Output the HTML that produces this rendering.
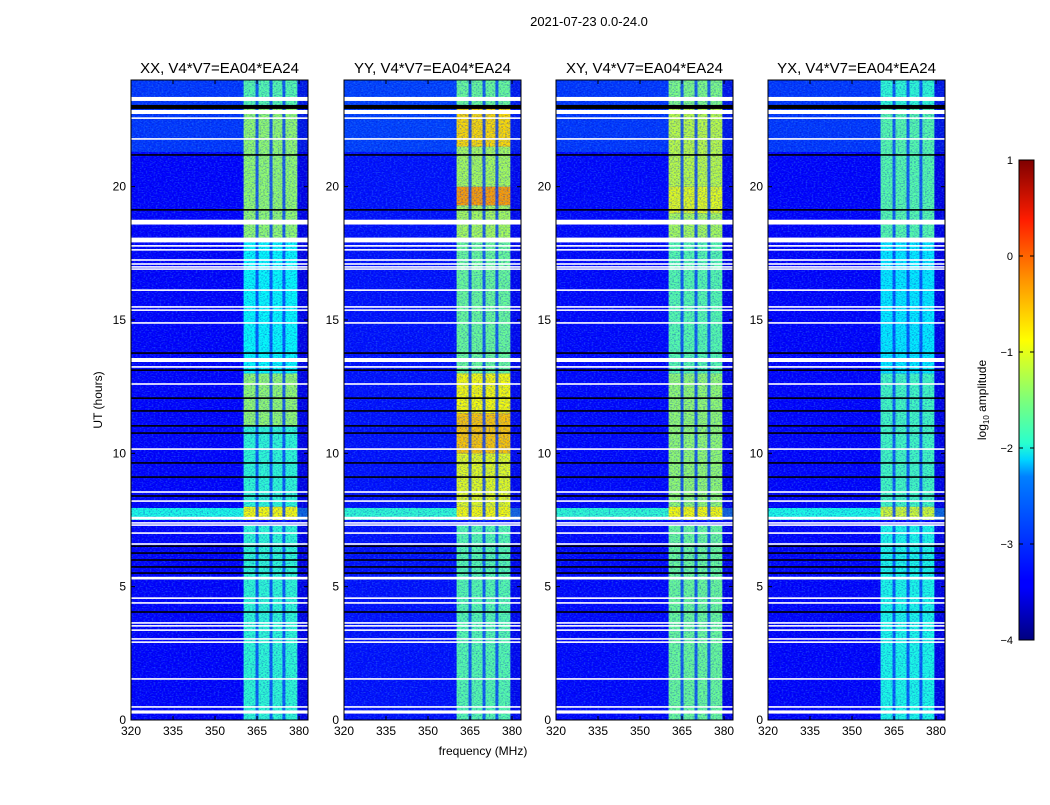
<!DOCTYPE html>
<html><head><meta charset="utf-8">
<style>
body{margin:0;background:#fff;width:1050px;height:800px;overflow:hidden;font-family:"Liberation Sans","DejaVu Sans",sans-serif;}
svg text{font-family:"Liberation Sans","DejaVu Sans",sans-serif;}
</style></head>
<body>
<svg id="chart" width="1050" height="800" xmlns="http://www.w3.org/2000/svg">
<defs>
<linearGradient id="jet" x1="0" y1="1" x2="0" y2="0">
<stop offset="0" stop-color="#00007f"/><stop offset="0.11" stop-color="#0000ff"/>
<stop offset="0.125" stop-color="#0000ff"/><stop offset="0.34" stop-color="#0080ff"/>
<stop offset="0.375" stop-color="#00d4ff"/><stop offset="0.41" stop-color="#29ffce"/>
<stop offset="0.5" stop-color="#7dff7a"/><stop offset="0.625" stop-color="#ffff00"/>
<stop offset="0.75" stop-color="#ff9400"/><stop offset="0.875" stop-color="#ff1d00"/>
<stop offset="1" stop-color="#7f0000"/>
</linearGradient>
<filter id="noise" x="0" y="0" width="100%" height="100%">
<feTurbulence type="fractalNoise" baseFrequency="0.5 0.8" numOctaves="1" seed="3"/>
<feColorMatrix type="matrix" values="0 0 0 0 0.05  0 0 0 0 0.35  0 0 0 0 0.9  2.2 0 0 0 -1.0"/>
</filter>
<filter id="noiseDark" x="0" y="0" width="100%" height="100%">
<feTurbulence type="fractalNoise" baseFrequency="0.55 0.9" numOctaves="1" seed="9"/>
<feColorMatrix type="matrix" values="0 0 0 0 0  0 0 0 0 0  0 0 0 0 0.45  2.0 0 0 0 -0.9"/>
</filter>
</defs>
<text x="589" y="26" font-size="13" text-anchor="middle">2021-07-23 0.0-24.0</text>
<g id="panels"></g>
<text x="483" y="755" font-size="12" text-anchor="middle">frequency (MHz)</text>
<text transform="translate(102,400) rotate(-90)" font-size="12" text-anchor="middle">UT (hours)</text>
<g id="colorbar"></g>
</svg>
<script>
const panelTitles = ["XX, V4*V7=EA04*EA24","YY, V4*V7=EA04*EA24","XY, V4*V7=EA04*EA24","YX, V4*V7=EA04*EA24"];
const xTicks = [320,335,350,365,380];
const yTicks = [0,5,10,15,20];
const cbTicks = [1,0,-1,-2,-3,-4];
const bgLevel = [-3.38,-3.3,-3.35,-3.38];
const topLevel = [-3.1,-3.05,-3.1,-3.1];
const brightRowLevel = [-2.0,-1.9,-1.9,-2.0];
const bandEdges = [360.2,379.4];
const stripes = [365,370,374.6];
const bandXX = [[0,7.3,-1.9],[7.5,8.0,-0.9],[8,11,-1.9],[11,13,-1.4],[13,18,-2.1],[18,23,-1.4],[23,24,-1.7]];
const bandYY = [[0,7.3,-1.7],[7.5,8,-0.9],[8,10,-1.0],[10,11.5,-0.6],[11.5,13,-0.9],[13,18,-1.6],[18,19.3,-1.3],[19.3,20,-0.4],[20,21.5,-1.3],[21.5,23,-0.7],[23,24,-1.6]];
const bandXY = [[0,7.3,-1.6],[7.5,8,-0.9],[8,13,-1.4],[13,18,-1.7],[18,19,-1.3],[19,20,-1.0],[20,23,-1.2],[23,24,-1.5]];
const bandYX = [[0,7.3,-2.0],[7.5,8,-1.1],[8,13,-1.8],[13,18,-2.2],[18,23,-1.7],[23,24,-1.9]];
const whiteGaps = [[23.29,0.15],[22.8,0.15],[22.57,0.06],[21.79,0.06],[18.67,0.18],[18.0,0.18],[17.78,0.06],[17.63,0.06],[17.25,0.06],[17.1,0.06],[16.99,0.06],[16.91,0.06],[16.12,0.06],[15.49,0.06],[15.37,0.06],[14.89,0.06],[13.5,0.15],[13.24,0.06],[12.6,0.06],[10.16,0.06],[8.55,0.06],[8.21,0.06],[7.57,0.1],[7.39,0.06],[7.31,0.06],[7.01,0.06],[6.6,0.06],[5.32,0.1],[4.57,0.06],[4.39,0.06],[3.64,0.06],[3.53,0.06],[3.37,0.06],[3.04,0.06],[2.92,0.06],[1.54,0.06],[0.49,0.06],[0.3,0.12]];
const blackLines = [[22.99,0.15],[21.19,0.06],[19.13,0.06],[13.76,0.06],[13.12,0.06],[12.07,0.06],[11.59,0.06],[11.03,0.06],[10.76,0.06],[9.64,0.06],[9.11,0.06],[8.4,0.06],[6.52,0.06],[6.26,0.06],[6.0,0.06],[5.74,0.06],[5.51,0.06],[4.05,0.06]];
const bands = [bandXX,bandYY,bandXY,bandYX];

const NS="http://www.w3.org/2000/svg";
const panelLeft=[131,344,556,768], PW=177, PT=80, PH=640;
const fMin=320, fMax=383.2, tMax=24;
function jet(v){let t=(v+4)/5;t=Math.max(0,Math.min(1,t));
 const r=Math.max(0,Math.min(1,1.5-Math.abs(4*t-3))),g=Math.max(0,Math.min(1,1.5-Math.abs(4*t-2))),b=Math.max(0,Math.min(1,1.5-Math.abs(4*t-1)));
 return `rgb(${Math.round(r*255)},${Math.round(g*255)},${Math.round(b*255)})`;}
function mk(tag,attrs,parent){const e=document.createElementNS(NS,tag);for(const k in attrs)e.setAttribute(k,attrs[k]);parent.appendChild(e);return e;}
const root=document.getElementById('panels');
panelLeft.forEach((L,p)=>{
 const xs=f=>L+(f-fMin)/(fMax-fMin)*PW;
 const ys=h=>PT+PH-(h/tMax)*PH;
 const g=mk('g',{},root);
 
 
 const bg=mk('rect',{x:L,y:PT,width:PW,height:PH,fill:jet(bgLevel[p])},g);
  
 const tp=mk('rect',{x:L,y:ys(24),width:PW,height:ys(21.3)-ys(24),fill:jet(topLevel[p])},g);
  
 const br=mk('rect',{x:L,y:ys(7.95),width:PW,height:ys(7.5)-ys(7.95),fill:jet(brightRowLevel[p])},g);
  
 const rd=mk('rect',{x:xs(bandEdges[1]),y:PT,width:L+PW-xs(bandEdges[1]),height:PH,fill:jet(bgLevel[p]-0.2),opacity:0.6},g);
  
 bands[p].forEach(s=>{
  const r=mk('rect',{x:xs(bandEdges[0]),y:ys(s[1]),width:xs(bandEdges[1])-xs(bandEdges[0]),height:ys(s[0])-ys(s[1]),fill:jet(s[2])},g);
   
 });
 stripes.forEach(f=>{
  const r=mk('rect',{x:xs(f)-1.5,y:PT,width:3,height:PH,fill:jet(-3.1),opacity:0.8},g);
   
 });
 mk('rect',{x:L,y:PT,width:PW,height:PH,filter:'url(#noiseDark)',opacity:0.6},g);
 mk('rect',{x:L,y:PT,width:PW,height:PH,filter:'url(#noise)',opacity:0.5},g);
 blackLines.forEach(b=>{
  const h=Math.max(1.5,ys(b[0]-b[1]/2)-ys(b[0]+b[1]/2));
  const r=mk('rect',{x:L,y:ys(b[0])-h/2,width:PW,height:h,fill:'#000'},g);
   
 });
 whiteGaps.forEach(b=>{
  const h=Math.max(1.5,ys(b[0]-b[1]/2)-ys(b[0]+b[1]/2));
  const r=mk('rect',{x:L,y:ys(b[0])-h/2,width:PW,height:h,fill:'#fff'},g);
   
 });
 mk('rect',{x:L,y:PT,width:PW,height:PH,fill:'none',stroke:'#000','stroke-width':1},g);
 const t=mk('text',{x:L+PW/2,y:PT-7,'font-size':15,'text-anchor':'middle'},g);
 t.textContent=panelTitles[p];
  
 xTicks.forEach(v=>{
  const x=xs(v);
  mk('line',{x1:x,x2:x,y1:PT+PH,y2:PT+PH-4,stroke:'#000'},g);
  mk('line',{x1:x,x2:x,y1:PT,y2:PT+4,stroke:'#000'},g);
  const tt=mk('text',{x:x,y:PT+PH+15,'font-size':12,'text-anchor':'middle'},g);
  tt.textContent=v;
   
 });
 yTicks.forEach(v=>{
  const y=ys(v);
  mk('line',{x1:L,x2:L+4,y1:y,y2:y,stroke:'#000'},g);
  mk('line',{x1:L+PW,x2:L+PW-4,y1:y,y2:y,stroke:'#000'},g);
  const tt=mk('text',{x:L-5,y:y+4,'font-size':12,'text-anchor':'end'},g);
  tt.textContent=v;
   
 });
});
const cb=document.getElementById('colorbar');
const CX=1019,CW=15,CT=160,CH=480,vMin=-4,vMax=1;
const cy=v=>CT+CH-(v-vMin)/(vMax-vMin)*CH;
mk('rect',{x:CX,y:CT,width:CW,height:CH,fill:'url(#jet)',stroke:'#000'},cb);
cbTicks.forEach(v=>{
 const y=cy(v);
 mk('line',{x1:CX,x2:CX+4,y1:y,y2:y,stroke:'#000'},cb);
 mk('line',{x1:CX+CW,x2:CX+CW-4,y1:y,y2:y,stroke:'#000'},cb);
 const tt=mk('text',{x:CX-6,y:y+4,'font-size':11,'text-anchor':'end'},cb);
 tt.textContent=(v<0?'\u2212'+(-v):v);
  
});
const cl=mk('text',{transform:'translate(986,400) rotate(-90)','font-size':12,'text-anchor':'middle'},cb);
 
cl.innerHTML='log<tspan font-size="8" dy="3">10</tspan><tspan dy="-3"> amplitude</tspan>';
</script>
</body></html>
